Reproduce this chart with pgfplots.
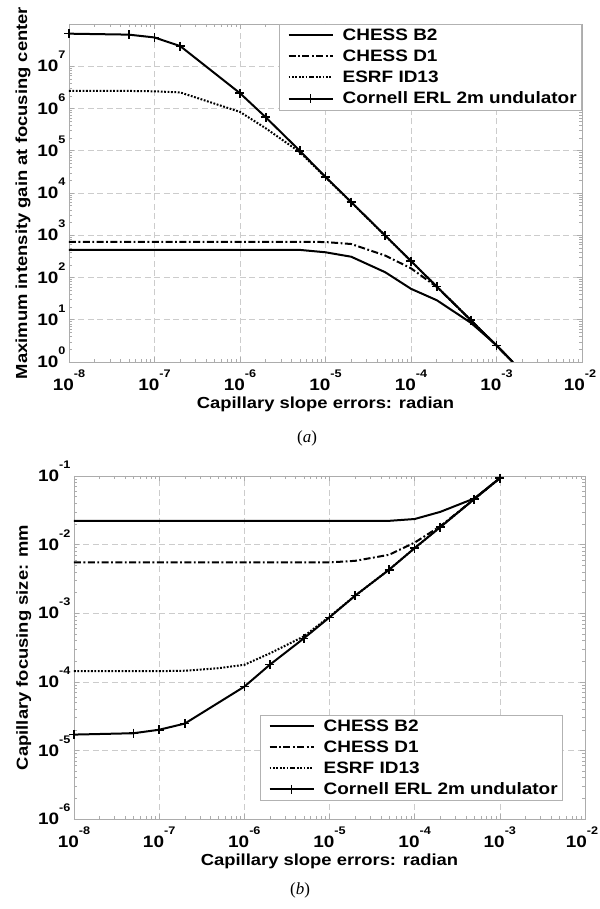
\documentclass[border=0pt]{standalone}
\usepackage{pgfplots}
\pgfplotsset{compat=1.18}
\usepackage{fontspec}
\setmainfont{Liberation Sans}[FakeStretch=1.15]
\newfontfamily\serifit{Liberation Serif}
\newcommand{\tl}[1]{10\raisebox{13pt}{\fontsize{11}{12}\selectfont\bfseries #1}}
\newcommand{\tly}[1]{10\smash{\raisebox{13pt}{\fontsize{11}{12}\selectfont\bfseries #1}}}
\pgfplotsset{
  legend image code/.code={\draw[mark repeat=2,mark phase=2,#1] plot coordinates {(0pt,0pt) (22pt,0pt) (44pt,0pt)}; \path (-4pt,0pt) (52pt,0pt);},
  base/.style={black, line width=2pt, solid, no markers},
  cornell/.style={black, line width=2pt, solid, mark=+, mark size=4.5pt, mark options={solid, line width=1.6pt}},
  dashdot/.style={black, line width=2pt, no markers, dash pattern=on 7pt off 2.5pt on 1.8pt off 2.5pt},
  dotty/.style={black, line width=2pt, no markers, dash pattern=on 1.8pt off 1.6pt},
}
\begin{document}
\begin{tikzpicture}
\useasboundingbox (0,0) rectangle (599pt,909pt);
\begin{axis}[xmode=log, ymode=log, scale only axis,
  xmin=1e-8, xmax=1e-2,
  axis line style={gray!65, line width=0.6pt},
  every tick/.style={gray!65, line width=0.5pt},
  tick align=inside,
  major tick length=5pt, minor tick length=3pt,
  grid=major,
  major grid style={gray!40, dash pattern=on 6pt off 3.5pt, line width=0.5pt},
  tick label style={font=\fontsize{16.5}{18}\selectfont\bfseries, black},
  xticklabel style={yshift=-4pt},
  label style={font=\fontsize{16}{19}\selectfont\bfseries},
  xtick={1e-8,1e-7,1e-6,1e-5,1e-4,1e-3,1e-2},
  xticklabels={\tl{-8},\tl{-7},\tl{-6},\tl{-5},\tl{-4},\tl{-3},\hspace*{-4pt}\tl{-2}},
  legend style={draw=gray!60, line width=0.6pt, font=\fontsize{16.5}{19}\selectfont\bfseries, cells={anchor=west}, inner xsep=4pt, inner ysep=3.5pt, nodes={inner sep=1pt}, row sep=6pt, at={(1,1)}, anchor=north east},
  xlabel={Capillary slope errors: radian},
  at={(69pt,547pt)}, anchor=south west,
  width=513pt, height=338pt,
  ymin=1, ymax=1e8,
  ytick={1,1e1,1e2,1e3,1e4,1e5,1e6,1e7},
  yticklabels={\tly{0},\tly{1},\tly{2},\tly{3},\tly{4},\tly{5},\tly{6},\tly{7}},
  ylabel={Maximum intensity gain at focusing center},
]
\addplot[base] coordinates {(1e-8,450) (1e-7,450) (1e-6,450) (5e-6,450) (1e-5,395) (2e-5,310) (5e-5,133) (1e-4,54) (2e-4,29) (5e-4,8.5) (1e-3,2.5) (1.55e-3,1.0)};
\addlegendentry{CHESS B2}
\addplot[dashdot] coordinates {(1e-8,700) (1e-7,700) (1e-6,700) (5e-6,700) (1e-5,690) (2e-5,620) (5e-5,330) (1e-4,165) (2e-4,60) (5e-4,9.8) (1e-3,2.45) (1.55e-3,1.0)};
\addlegendentry{CHESS D1}
\addplot[dotty] coordinates {(1e-8,2.6e6) (5e-8,2.6e6) (1e-7,2.55e6) (2e-7,2.4e6) (1e-6,8.3e5) (2e-6,3.4e5) (5e-6,9.3e4) (1e-5,2.35e4) (2e-5,6e3) (5e-5,970) (1e-4,245) (2e-4,61) (5e-4,9.8) (1e-3,2.45) (1.55e-3,1.0)};
\addlegendentry{ESRF ID13}
\addplot[cornell] coordinates {(1e-8,5.9e7) (5e-8,5.6e7) (1e-7,4.8e7) (2e-7,3.0e7) (1e-6,2.3e6) (2e-6,6.2e5) (5e-6,1.0e5) (1e-5,2.4e4) (2e-5,6.1e3) (5e-5,980) (1e-4,245) (2e-4,61) (5e-4,9.8) (1e-3,2.45)};
\addlegendentry{Cornell ERL 2m undulator}
\addplot[base, forget plot] coordinates {(1e-3,2.45) (1.55e-3,1.0)};
\end{axis}
\node[font=\fontsize{17}{19}\selectfont\serifit] at (307pt,471pt) {(\textit{a})};
\begin{axis}[xmode=log, ymode=log, scale only axis,
  xmin=1e-8, xmax=1e-2,
  axis line style={gray!65, line width=0.6pt},
  every tick/.style={gray!65, line width=0.5pt},
  tick align=inside,
  major tick length=5pt, minor tick length=3pt,
  grid=major,
  major grid style={gray!40, dash pattern=on 6pt off 3.5pt, line width=0.5pt},
  tick label style={font=\fontsize{16.5}{18}\selectfont\bfseries, black},
  xticklabel style={yshift=-4pt},
  label style={font=\fontsize{16}{19}\selectfont\bfseries},
  xtick={1e-8,1e-7,1e-6,1e-5,1e-4,1e-3,1e-2},
  xticklabels={\tl{-8},\tl{-7},\tl{-6},\tl{-5},\tl{-4},\tl{-3},\hspace*{-6pt}\tl{-2}},
  legend style={draw=gray!60, line width=0.6pt, font=\fontsize{16.5}{19}\selectfont\bfseries, cells={anchor=west}, inner xsep=4pt, inner ysep=3.5pt, nodes={inner sep=1pt}, row sep=6pt, at={(0.957,0.0525)}, anchor=south east},
  xlabel={Capillary slope errors: radian},
  at={(74pt,90pt)}, anchor=south west,
  width=511pt, height=343pt,
  ymin=1e-6, ymax=1e-1,
  ytick={1e-6,1e-5,1e-4,1e-3,1e-2,1e-1},
  yticklabels={\tly{-6},\tly{-5},\tly{-4},\tly{-3},\tly{-2},\tly{-1}},
  ylabel={Capillary focusing size: mm},
]
\addplot[base] coordinates {(1e-8,0.0222) (1e-7,0.0222) (1e-6,0.0222) (1e-5,0.0222) (5e-5,0.0222) (1e-4,0.0236) (2e-4,0.030) (5e-4,0.047) (1e-3,0.093)};
\addlegendentry{CHESS B2}
\addplot[dashdot] coordinates {(1e-8,0.0055) (1e-7,0.0055) (1e-6,0.0055) (1e-5,0.0055) (2e-5,0.0058) (5e-5,0.0071) (1e-4,0.0107) (2e-4,0.0185) (5e-4,0.046) (1e-3,0.093)};
\addlegendentry{CHESS D1}
\addplot[dotty] coordinates {(1e-8,1.43e-4) (1e-7,1.43e-4) (2e-7,1.45e-4) (5e-7,1.58e-4) (1e-6,1.77e-4) (2e-6,2.6e-4) (5e-6,4.6e-4) (1e-5,8.9e-4) (2e-5,1.8e-3) (5e-5,4.3e-3) (1e-4,8.9e-3) (2e-4,1.8e-2) (5e-4,4.6e-2) (1e-3,9.3e-2)};
\addlegendentry{ESRF ID13}
\addplot[cornell] coordinates {(1e-8,1.7e-5) (5e-8,1.78e-5) (1e-7,2.0e-5) (2e-7,2.46e-5) (1e-6,8.5e-5) (2e-6,1.78e-4) (5e-6,4.3e-4) (1e-5,8.7e-4) (2e-5,1.8e-3) (5e-5,4.3e-3) (1e-4,8.9e-3) (2e-4,1.8e-2) (5e-4,4.6e-2) (1e-3,9.3e-2)};
\addlegendentry{Cornell ERL 2m undulator}
\end{axis}
\node[font=\fontsize{17}{19}\selectfont\serifit] at (300pt,19pt) {(\textit{b})};
\end{tikzpicture}
\end{document}
